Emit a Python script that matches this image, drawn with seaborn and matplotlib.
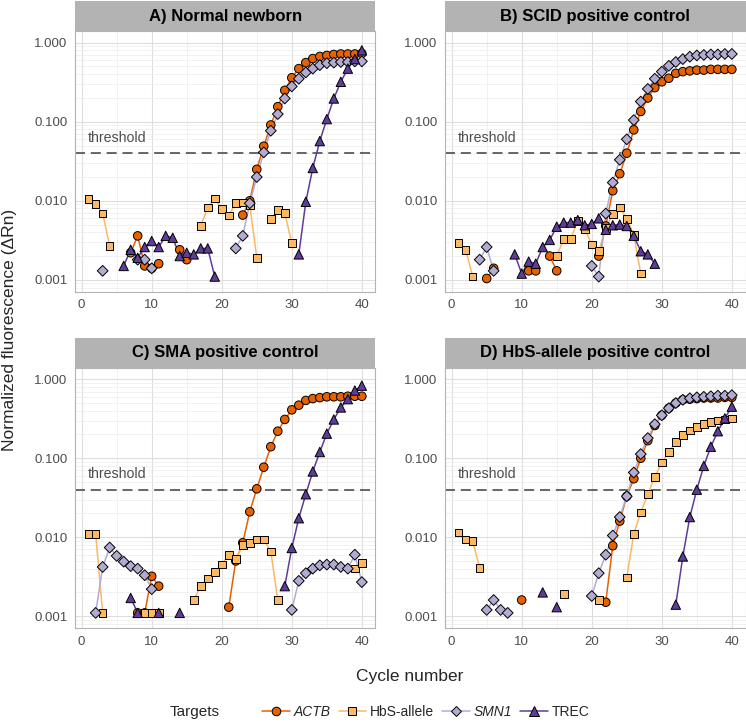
import numpy as np
import pandas as pd
import matplotlib
matplotlib.use("Agg")
import matplotlib.pyplot as plt
from matplotlib.lines import Line2D
import seaborn as sns

sns.set_style("white")
plt.rcParams["font.family"] = ["Liberation Sans", "DejaVu Sans"]

n = np.nan
cycles = list(range(1, 41))
targets = ["ACTB", "HbS-allele", "SMN1", "TREC"]
panel_titles = ["A) Normal newborn", "B) SCID positive control",
                "C) SMA positive control", "D) HbS-allele positive control"]
threshold = 0.04

# A) Normal newborn
a_actb = [n]*6 + [.0022, .0036, .0015, .0014, .0016, n, n, .0024, .0018] + [n]*7 + \
         [.0066, .010, .025, .049, .091, .155, .25, .36, .47, .56, .63, .67, .69, .71, .72, .72, .72, .73]
a_hbs = [.0105, .0091, .0069, .0027] + [n]*12 + \
        [.0048, .0082, .0107, .0079, .0065, .0093, .0095, .0089, .0019, n, .0059, .0076, .0070, .0029] + [n]*10
a_smn1 = [n, n, .0013, n, n, n, n, .0018, .0018, .0014] + [n]*11 + \
         [.0025, .0036, .0093, .020, .041, .077, .125, .197, .28, .35, .42, .47, .52, .55, .56, .57, .57, .58, .58]
a_trec = [n]*5 + [.0015, .0024, .0019, .0026, .0031, .0026, .0036, .0034, .0020, .0022, .0021, .0025, .0025, .0011] + \
         [n]*11 + [.0021, .0097, .026, .057, .108, .197, .32, .47, .62, .80]

# B) SCID positive control
b_actb = [n]*4 + [.00104, .0014, n, n, n, n, .0013, .0013, n, .0020, .0013] + [n]*5 + \
         [.0020, .0048, .0134, .022, .040, .079, .135, .20, .27, .32, .355, .41, .43, .44, .45, .45, .46, .46, .46, .46]
b_hbs = [.0029, .0024, .0011] + [n]*11 + \
        [.0020, .0033, .0033, .0056, .0044, .0028, .0023, .0045, .0068, .0082, .0059, .0037, .0012] + [n]*13
b_smn1 = [n]*3 + [.0018, .0026, .0013] + [n]*13 + \
         [.0015, .0011, .0069, .017, .033, .060, .105, .18, .26, .35, .43, .51, .57, .62, .665, .69, .70, .71, .71, .72, .72]
b_trec = [n]*8 + [.0021, .0012, .0017, .0016, .0026, .0032, .0047, .0053, .0053, .0057, .0049, .0051,
                  .0060, .0043, .0049, .0050, .0048, .0036, .0023, .0021, .0016] + [n]*11

# C) SMA positive control
c_actb = [n]*7 + [.0011, .0011, .0032, .0024] + [n]*9 + \
         [.0013, .005, .0085, .021, .041, .077, .14, .22, .31, .41, .47, .54, .57, .585, .60, .60, .60, .61, .61, .61]
c_hbs = [.011, .011, .0011] + [n]*5 + [.0011, .0011, .0011] + [n]*4 + \
        [.0016, .0024, .0030, .0036, .0045, .0060, .0053, .0080, .0085, .0094, .0094, .0066, .0016] + [n]*10 + [.0040, .0047]
c_smn1 = [n, .0011, .0042, .0074, .0058, .0049, .0043, .0040, .0033, .0022] + [n]*19 + \
         [.0012, .0028, .0035, .0040, .0044, .0045, .0045, .0042, .0040, .0060, .0027]
c_trec = [n]*6 + [.0017, .0011, n, n, .0011, n, n, .0011] + [n]*14 + \
         [.0024, .0073, .0174, .035, .068, .12, .205, .31, .44, .56, .72, .83]

# D) HbS-allele positive control
d_actb = [n]*9 + [.0016] + [n]*11 + \
         [.0015, .0078, .016, .033, .055, .10, .167, .26, .35, .43, .50, .55, .56, .57, .58, .58, .58, .59, .59]
d_hbs = [.0115, .0094, .0089, .0041] + [n]*11 + [.0019] + [n]*4 + [.0016, n, n, n] + \
        [.0031, .011, .0205, .035, .058, .088, .12, .16, .197, .225, .25, .27, .29, .30, .31, .32]
d_smn1 = [n]*4 + [.0012, .0016, .0012, .0011] + [n]*11 + \
         [.0018, .0035, .0060, .0105, .018, .033, .066, .113, .18, .27, .35, .43, .50, .55, .575, .59, .60, .61, .62, .62, .63]
d_trec = [n]*12 + [.0020, n, .0013] + [n]*16 + [.0014, .0057, .018, .040, .08, .14, .22, .32, .45]

series = [
    [a_actb, a_hbs, a_smn1, a_trec],
    [b_actb, b_hbs, b_smn1, b_trec],
    [c_actb, c_hbs, c_smn1, c_trec],
    [d_actb, d_hbs, d_smn1, d_trec],
]

rows = []
for title, group in zip(panel_titles, series):
    for target, vals in zip(targets, group):
        for c, v in zip(cycles, vals):
            rows.append((title, target, c, v))
df = pd.DataFrame(rows, columns=["panel", "target", "cycle", "value"])

palette = {"ACTB": "#E66101", "HbS-allele": "#FDB863", "SMN1": "#B2ABD2", "TREC": "#5E3C99"}
marker_map = {"ACTB": "o", "HbS-allele": "s", "SMN1": "D", "TREC": "^"}
size_map = {"ACTB": 38, "HbS-allele": 30, "SMN1": 30, "TREC": 46}

W, H = 746, 725
fig = plt.figure(figsize=(W / 100, H / 100), dpi=100)


def px_axes(l, t, r, b):
    return fig.add_axes([l / W, 1 - b / H, (r - l) / W, (b - t) / H])


boxes = [(75, 31, 375.5, 291.7), (445, 31, 745.5, 291.7),
         (75, 367.6, 375.5, 628), (445, 367.6, 745.5, 628)]
minor_y = [m * 10.0 ** e for e in range(-4, 1) for m in range(2, 10)]

for title, box in zip(panel_titles, boxes):
    ax = px_axes(*box)
    sub = df[df["panel"] == title]
    for t in targets:
        s = sub[sub["target"] == t]
        ax.plot(s["cycle"], s["value"], color=palette[t], lw=1.1, zorder=2)
    sns.scatterplot(data=sub.dropna(), x="cycle", y="value", hue="target", style="target",
                    size="target", palette=palette, markers=marker_map, sizes=size_map,
                    hue_order=targets, style_order=targets, size_order=targets,
                    edgecolor="black", linewidth=0.7, legend=False, ax=ax, zorder=3)
    ax.set_yscale("log")
    ax.set_yticks([0.001, 0.01, 0.1, 1.0])
    ax.set_yticklabels(["0.001", "0.010", "0.100", "1.000"])
    ax.set_yticks(minor_y, minor=True)
    ax.set_xticks([0, 10, 20, 30, 40])
    ax.set_xticks([5, 15, 25, 35], minor=True)
    ax.set_ylim(10 ** -3.15, 10 ** 0.148)
    ax.set_xlim(-0.95, 41.95)
    ax.grid(which="major", color="#DEDEDE", lw=0.8, zorder=0)
    ax.grid(which="minor", color="#EDEDED", lw=0.55, zorder=0)
    ax.set_axisbelow(True)
    ax.tick_params(which="major", labelsize=9.5, labelcolor="#4D4D4D", length=2.5,
                   color="#B3B3B3", width=0.6, pad=3)
    ax.tick_params(which="minor", length=0)
    for sp in ax.spines.values():
        sp.set_color("#B3B3B3")
        sp.set_linewidth(0.8)
    ax.set_xlabel("")
    ax.set_ylabel("")
    ax.axhline(threshold, color="#4D4D4D", lw=1.2, ls=(0, (6, 3.5)), zorder=1)
    ax.text(5, 0.063, "threshold", ha="center", va="center", color="#4D4D4D", fontsize=10.2)

    l, t, r, b = box
    sax = px_axes(l, t - 30, r, t)
    sax.set_facecolor("#B3B3B3")
    sax.set_xticks([])
    sax.set_yticks([])
    for sp in sax.spines.values():
        sp.set_visible(False)
    sax.text(0.5, 0.5, title, ha="center", va="center", fontsize=12,
             fontweight="bold", color="black", transform=sax.transAxes)

fig.text(10 / W, 1 - 330 / H, "Normalized fluorescence (\u0394Rn)", rotation=90,
         ha="center", va="center", fontsize=12.5)
fig.text(410 / W, 1 - 677 / H, "Cycle number", ha="center", va="center", fontsize=12.5)

fig.text(170 / W, 1 - 712 / H, "Targets", ha="left", va="center", fontsize=11)
handles = [Line2D([], [], color=palette[t], lw=1.1, marker=marker_map[t],
                  markersize={"ACTB": 6.2, "HbS-allele": 5.5, "SMN1": 5.5, "TREC": 6.8}[t],
                  markerfacecolor=palette[t], markeredgecolor="black", markeredgewidth=0.7)
           for t in targets]
leg = fig.legend(handles, targets, loc="center left", bbox_to_anchor=(262 / W, 1 - 712 / H),
                 ncol=4, frameon=False, fontsize=10, handlelength=2.0, handletextpad=0.25,
                 columnspacing=0.6, borderpad=0, borderaxespad=0)
for i in (0, 2):
    leg.get_texts()[i].set_fontstyle("italic")

fig.savefig("out.png", dpi=100)
